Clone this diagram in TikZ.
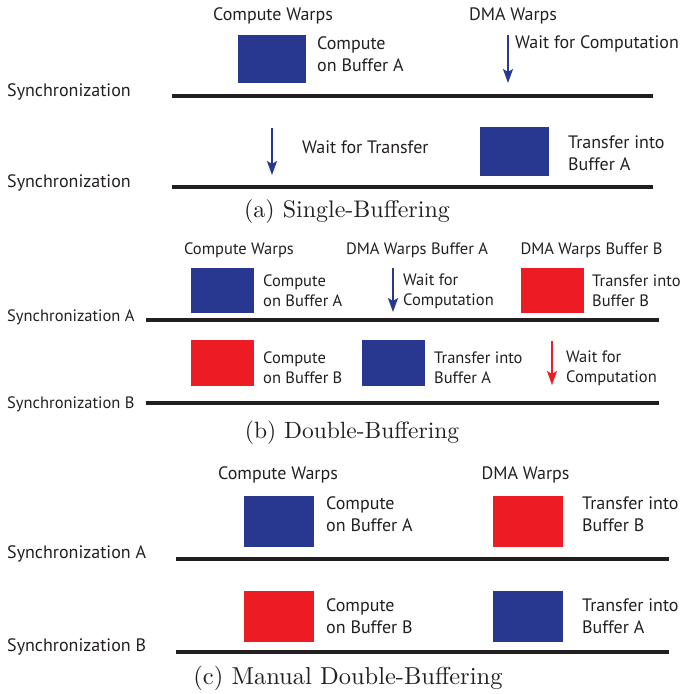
\documentclass[tikz,border=0pt]{standalone}
\usepackage{fontspec}
\setsansfont{PT Sans}
\newfontfamily\capfont[Extension=.otf]{lmroman10-regular}
\usetikzlibrary{arrows,arrows.meta,positioning}
\usepackage{xcolor}
\definecolor{bufblue}{RGB}{40,56,145}
\definecolor{bufred}{RGB}{237,28,36}
\definecolor{ink}{RGB}{35,31,32}

\tikzset{
    buf/.style={inner sep=0pt,minimum width=#1,minimum height=0.72*#1},
    lbl/.style={font=\sffamily\fontsize{18}{22}\selectfont,text=ink,inner sep=0pt,align=left},
    lbls/.style={font=\sffamily\fontsize{16.5}{20}\selectfont,text=ink,inner sep=0pt,align=left},
    sync/.style={draw=ink,line width=4.5pt},
    waitarrow/.style={-{Stealth[length=14pt,width=10pt,inset=3pt]},line width=2pt},
    subcap/.style={font=\capfont\fontsize{#1}{28}\selectfont,text=ink,inner sep=0pt},
    subcap/.default=24
}

\begin{document}
\begin{tikzpicture}[x=1pt,y=-1pt]
    \useasboundingbox (0,0) rectangle (681,694);

    % (a)
    \node[lbl] (aCW) at (273,16) {Compute Warps};
    \node[lbl] (aDW) at (513,15.5) {DMA Warps};
    \node[buf=68pt,minimum height=48pt,fill=bufblue] (aB1) at (272,59) {};
    \node[lbl,anchor=west] (aT1) at (317,54) {Compute\\on Buffer A};
    \coordinate (aW1s) at (508,35);
    \coordinate (aW1e) at (508,83);
    \draw[waitarrow,bufblue] (aW1s) -- (aW1e);
    \node[lbl,anchor=west] (aT2) at (515,43.5) {Wait for Computation};
    \node[lbl,anchor=west] (aS1) at (7,92) {Synchronization};
    \coordinate (aL1s) at (172,96);
    \coordinate (aL1e) at (653,96);
    \draw[sync] (aL1s) -- (aL1e);
    \coordinate (aW2s) at (272,128);
    \coordinate (aW2e) at (272,175);
    \draw[waitarrow,bufblue] (aW2s) -- (aW2e);
    \node[lbl,anchor=west] (aT3) at (302,147.5) {Wait for Transfer};
    \node[buf=69pt,minimum height=49pt,fill=bufblue] (aB2) at (514.5,151.5) {};
    \node[lbl,anchor=west] (aT4) at (568,153.5) {Transfer into\\Buffer A};
    \node[lbl,anchor=west] (aS2) at (7,183) {Synchronization};
    \coordinate (aL2s) at (172,187);
    \coordinate (aL2e) at (653,187);
    \draw[sync] (aL2s) -- (aL2e);
    \node[subcap] (aCap) at (347,211) {(a) Single-Buffering};

    % (b)
    \node[lbls] (bCW) at (239,250) {Compute Warps};
    \node[lbls] (bDA) at (417,250) {DMA Warps Buffer A};
    \node[lbls] (bDB) at (591.5,250) {DMA Warps Buffer B};
    \node[buf=63pt,minimum height=45pt,fill=bufblue] (bB1) at (222.5,290.5) {};
    \node[lbls,anchor=west] (bT1) at (263,291) {Compute\\on Buffer A};
    \coordinate (bW1s) at (393,268);
    \coordinate (bW1e) at (393,312);
    \draw[waitarrow,bufblue] (bW1s) -- (bW1e);
    \node[lbls,anchor=west] (bT2) at (403,291) {Wait for\\Computation};
    \node[buf=63pt,minimum height=45pt,fill=bufred] (bB2) at (552.5,290.5) {};
    \node[lbls,anchor=west] (bT3) at (592,291) {Transfer into\\Buffer B};
    \node[lbls,anchor=west] (bS1) at (7,317) {Synchronization A};
    \coordinate (bL1s) at (146,320);
    \coordinate (bL1e) at (659,320);
    \draw[sync] (bL1s) -- (bL1e);
    \node[buf=63pt,minimum height=46pt,fill=bufred] (bB3) at (222.5,363) {};
    \node[lbls,anchor=west] (bT4) at (263,368) {Compute\\on Buffer B};
    \node[buf=63pt,minimum height=46pt,fill=bufblue] (bB4) at (393.5,363) {};
    \node[lbls,anchor=west] (bT5) at (434,368) {Transfer into\\Buffer A};
    \coordinate (bW2s) at (552,341);
    \coordinate (bW2e) at (552,385);
    \draw[waitarrow,bufred] (bW2s) -- (bW2e);
    \node[lbls,anchor=west] (bT6) at (566,368) {Wait for\\Computation};
    \node[lbls,anchor=west] (bS2) at (7,404) {Synchronization B};
    \coordinate (bL2s) at (146,403);
    \coordinate (bL2e) at (659,403);
    \draw[sync] (bL2s) -- (bL2e);
    \node[subcap=23.5] (bCap) at (352,433) {(b) Double-Buffering};

    % (c)
    \node[lbl] (cCW) at (278,475) {Compute Warps};
    \node[lbl] (cDW) at (525.5,475) {DMA Warps};
    \node[buf=70pt,minimum height=51pt,fill=bufblue] (cB1) at (279,521.5) {};
    \node[lbl,anchor=west] (cT1) at (326,514.5) {Compute\\on Buffer A};
    \node[buf=70pt,minimum height=51pt,fill=bufred] (cB2) at (528,521.5) {};
    \node[lbl,anchor=west] (cT2) at (582,514.5) {Transfer into\\Buffer B};
    \node[lbl,anchor=west] (cS1) at (7,554) {Synchronization A};
    \coordinate (cL1s) at (176,559);
    \coordinate (cL1e) at (669,559);
    \draw[sync] (cL1s) -- (cL1e);
    \node[buf=70pt,minimum height=51pt,fill=bufred] (cB3) at (279,616.5) {};
    \node[lbl,anchor=west] (cT3) at (326,616) {Compute\\on Buffer B};
    \node[buf=70pt,minimum height=51pt,fill=bufblue] (cB4) at (528,616.5) {};
    \node[lbl,anchor=west] (cT4) at (582,616) {Transfer into\\Buffer A};
    \node[lbl,anchor=west] (cS2) at (7,647) {Synchronization B};
    \coordinate (cL2s) at (176,652);
    \coordinate (cL2e) at (669,652);
    \draw[sync] (cL2s) -- (cL2e);
    \node[subcap=24.5] (cCap) at (348,678) {(c) Manual Double-Buffering};
\end{tikzpicture}
\end{document}
